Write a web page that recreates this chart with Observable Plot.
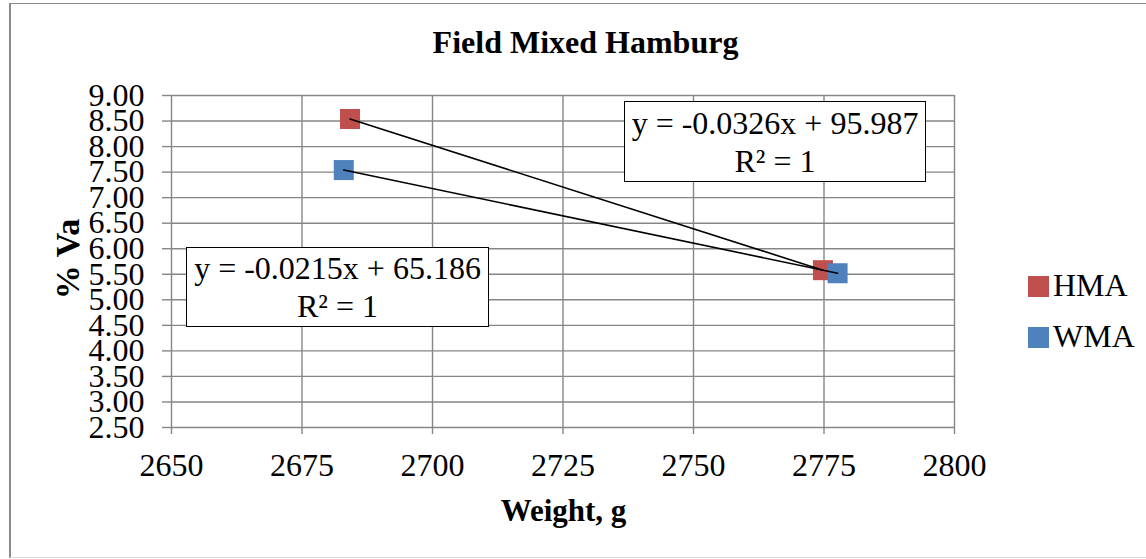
<!DOCTYPE html>
<html>
<head>
<meta charset="utf-8">
<script src="https://cdn.jsdelivr.net/npm/d3@7"></script>
<script src="https://cdn.jsdelivr.net/npm/@observablehq/plot@0.6"></script>
<style>
  html, body { margin: 0; padding: 0; background: #fff; }
  #wrap { position: relative; width: 1146px; height: 559px; overflow: hidden; background: #fff;
          font-family: "Liberation Serif", "Times New Roman", serif; color: #000; }
  #frame { position: absolute; left: 9px; top: 3px; width: 1200px; height: 553px;
           border-left: 2px solid #8a8a8a; border-top: 1px solid #8a8a8a; border-bottom: 1px solid #d9d9d9; }
  #chart { position: absolute; left: 0; top: 0; }
  .abs { position: absolute; white-space: nowrap; }
  #title { font-weight: bold; font-size: 32px; line-height: 32px; left: 0; width: 1171px; text-align: center; top: 26px; }
  #ylab { font-weight: bold; font-size: 34px; line-height: 34px; left: 68px; top: 259px; transform: translate(-50%, -50%) rotate(-90deg); }
  #xlab { font-weight: bold; font-size: 31px; line-height: 31px; left: 0; width: 1127px; text-align: center; top: 495px; }
  .eq { position: absolute; background: #fff; border: 1.5px solid #000; font-size: 32px; line-height: 38px;
        text-align: center; box-sizing: border-box; white-space: nowrap; }
  .leg { position: absolute; font-size: 32px; line-height: 32px; }
  .sw { position: absolute; width: 21px; height: 21px; }
</style>
</head>
<body>
<div id="wrap">
  <div id="frame"></div>
  <div id="chart"></div>
  <div id="title" class="abs"></div>
  <div id="ylab" class="abs"></div>
  <div id="xlab" class="abs"></div>
  <div id="eqHMA" class="eq" style="left:624px;top:101px;width:302px;height:81px;padding-top:2px;"></div>
  <div id="eqWMA" class="eq" style="left:186px;top:247px;width:303px;height:80px;padding-top:1px;"></div>
  <div id="legend"></div>
</div>
<script>
// ---- data ----
const title = "Field Mixed Hamburg";
const xLabel = "Weight, g";
const yLabel = "% Va";
const seriesNames = ["HMA", "WMA"];
const seriesColors = ["#C0504D", "#4F81BD"];
const hmaWeight = [2684.2, 2774.8];
const hmaVa = [8.54, 5.58];
const wmaWeight = [2683.0, 2777.6];
const wmaVa = [7.54, 5.52];
const hmaEquation = ["y = -0.0326x + 95.987", "R² = 1"];
const wmaEquation = ["y = -0.0215x + 65.186", "R² = 1"];
const xTicks = [2650, 2675, 2700, 2725, 2750, 2775, 2800];
const yTicks = [2.5, 3, 3.5, 4, 4.5, 5, 5.5, 6, 6.5, 7, 7.5, 8, 8.5, 9];

// ---- table ----
const rows = [
  ...hmaWeight.map((w, i) => ({series: "HMA", weight: w, va: hmaVa[i]})),
  ...wmaWeight.map((w, i) => ({series: "WMA", weight: w, va: wmaVa[i]}))
];

const serif = "'Liberation Serif', 'Times New Roman', serif";
const grid = "#868686";
const chart = Plot.plot({
  width: 1146,
  height: 559,
  marginLeft: 171,
  marginRight: 192,
  marginTop: 95,
  marginBottom: 132,
  style: {fontFamily: serif, fontSize: "32px", color: "#000", background: "transparent", overflow: "visible"},
  x: {domain: [2650, 2800], ticks: xTicks},
  y: {domain: [2.5, 9], ticks: yTicks},
  color: {domain: seriesNames, range: seriesColors},
  marks: [
    Plot.gridX(xTicks, {stroke: grid, strokeOpacity: 1, strokeWidth: 1.4}),
    Plot.gridY(yTicks, {stroke: grid, strokeOpacity: 1, strokeWidth: 1.4}),
    Plot.axisX(xTicks, {tickSize: 7, tickPadding: 19, stroke: grid, strokeWidth: 1.4, fill: "#000", label: null,
      tickFormat: d => String(d), fontSize: 32, fontFamily: serif}),
    Plot.axisY(yTicks, {tickSize: 9, tickPadding: 18, stroke: grid, strokeWidth: 1.4, fill: "#000", label: null,
      tickFormat: d => d.toFixed(2), fontSize: 32, fontFamily: serif}),
    Plot.dot(rows, {x: "weight", y: "va", fill: "series", symbol: "square", r: 11.3, stroke: "none"}),
    Plot.line(rows, {x: "weight", y: "va", z: "series", stroke: "#000", strokeWidth: 1.6})
  ]
});
document.getElementById("chart").appendChild(chart);

document.getElementById("title").textContent = title;
document.getElementById("ylab").textContent = yLabel;
document.getElementById("xlab").textContent = xLabel;
document.getElementById("eqHMA").innerHTML = hmaEquation.map(s => `<div>${s}</div>`).join("");
document.getElementById("eqWMA").innerHTML = wmaEquation.map(s => `<div>${s}</div>`).join("");

const legend = document.getElementById("legend");
seriesNames.forEach((name, i) => {
  const sw = document.createElement("div");
  sw.className = "sw";
  sw.style.left = "1028px";
  sw.style.top = (276 + i * 51) + "px";
  sw.style.background = seriesColors[i];
  legend.appendChild(sw);
  const t = document.createElement("div");
  t.className = "leg";
  t.style.left = "1053px";
  t.style.top = (269 + i * 51) + "px";
  t.textContent = name;
  legend.appendChild(t);
});
</script>
</body>
</html>
